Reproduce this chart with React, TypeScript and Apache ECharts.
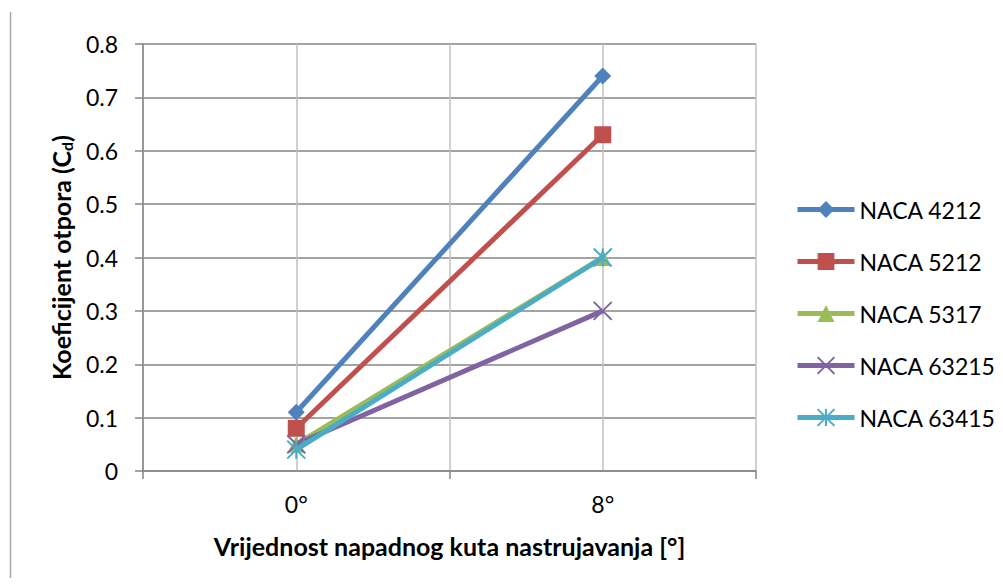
import React, { useEffect, useRef } from "react";
import * as echarts from "echarts";

// Drag coefficient per airfoil at two angles of attack
const categories = ["0°", "8°"];
const seriesNames = ["NACA 4212", "NACA 5212", "NACA 5317", "NACA 63215", "NACA 63415"];
const naca4212 = [0.11, 0.74];
const naca5212 = [0.08, 0.63];
const naca5317 = [0.05, 0.4];
const naca63215 = [0.05, 0.3];
const naca63415 = [0.04, 0.4];
const yTicks = [0, 0.1, 0.2, 0.3, 0.4, 0.5, 0.6, 0.7, 0.8];

const colors = ["#4f81bd", "#c0504d", "#9bbb59", "#8064a2", "#4bacc6"];
const FONT = "Lato, 'Liberation Sans', sans-serif";

const crossSymbol = "path://M0,0L10,10M10,0L0,10";
const starSymbol = "path://M5,0L5,10M0,0L10,10M10,0L0,10";

export default function App() {
  const ref = useRef<HTMLDivElement>(null);

  useEffect(() => {
    if (!ref.current) return;
    const chart = echarts.init(ref.current, undefined, { renderer: "svg" });
    const values = [naca4212, naca5212, naca5317, naca63215, naca63415];
    const symbols = ["diamond", "rect", "triangle", crossSymbol, starSymbol];
    const sizes = [17, 17, 17, 18, 18];

    chart.setOption({
      animation: false,
      textStyle: { fontFamily: FONT },
      grid: { left: 143, right: 247, top: 44, bottom: 115, containLabel: false },
      graphic: [
        {
          type: "line",
          shape: { x1: 10.5, y1: 12, x2: 10.5, y2: 586 },
          style: { stroke: "#a6a6a6", lineWidth: 1.5 },
        },
      ],
      legend: {
        orient: "vertical",
        left: 795,
        top: 198,
        padding: 0,
        itemWidth: 57,
        itemHeight: 21,
        itemGap: 29,
        lineStyle: { width: 5 },
        textStyle: { fontSize: 23, color: "#000", fontFamily: FONT },
        data: seriesNames,
      },
      xAxis: [
        {
          type: "category",
          data: categories,
          boundaryGap: true,
          name: "Vrijednost napadnog kuta nastrujavanja [°]",
          nameLocation: "middle",
          nameGap: 62,
          nameTextStyle: { fontSize: 25, fontWeight: "bold", color: "#000", fontFamily: FONT },
          axisLine: { lineStyle: { color: "#868686", width: 1.5 } },
          axisTick: { show: true, length: 8, lineStyle: { color: "#868686", width: 1.5 } },
          axisLabel: { fontSize: 23, color: "#000", margin: 21, fontFamily: FONT },
          splitLine: { show: false },
        },
        {
          // vertical gridlines through category centers and boundaries
          type: "value",
          min: 0,
          max: 4,
          interval: 1,
          position: "bottom",
          axisLine: { show: false },
          axisTick: { show: false },
          axisLabel: { show: false },
          splitLine: { show: true, lineStyle: { color: "#c0c0c0", width: 1.5 } },
        },
      ],
      yAxis: {
        type: "value",
        min: 0,
        max: 0.8,
        interval: 0.1,
        name: "{t|Koeficijent otpora (C}{s|d}{t|)}",
        nameLocation: "middle",
        nameGap: 66,
        nameRotate: 90,
        nameTextStyle: {
          rich: {
            t: { fontSize: 25, fontWeight: "bold", color: "#000", fontFamily: FONT },
            s: { fontSize: 16, fontWeight: "bold", color: "#000", fontFamily: FONT, verticalAlign: "bottom", padding: [12, 0, 0, 0] },
          },
        },
        axisLine: { show: true, lineStyle: { color: "#868686", width: 1.5 } },
        axisTick: { show: true, length: 8, lineStyle: { color: "#868686", width: 1.5 } },
        axisLabel: {
          fontSize: 23,
          color: "#000",
          margin: 25,
          fontFamily: FONT,
          formatter: (v: number) => {
            const t = yTicks.find((k) => Math.abs(k - v) < 1e-9);
            return t === undefined ? "" : t === 0 ? "0" : t.toFixed(1);
          },
        },
        splitLine: { show: true, lineStyle: { color: "#868686", width: 1.5 } },
      },
      series: seriesNames.map((name, i) => ({
        name,
        type: "line",
        xAxisIndex: 0,
        data: values[i],
        symbol: symbols[i],
        symbolSize: sizes[i],
        showAllSymbol: true,
        lineStyle: { color: colors[i], width: 5 },
        itemStyle: {
          color: colors[i],
          borderColor: colors[i],
          borderWidth: i >= 3 ? 2 : 0,
        },
        emphasis: { disabled: true },
        z: 2 + i,
      })),
    });

    return () => chart.dispose();
  }, []);

  return <div ref={ref} style={{ width: 1003, height: 586, margin: -8 }} />;
}
